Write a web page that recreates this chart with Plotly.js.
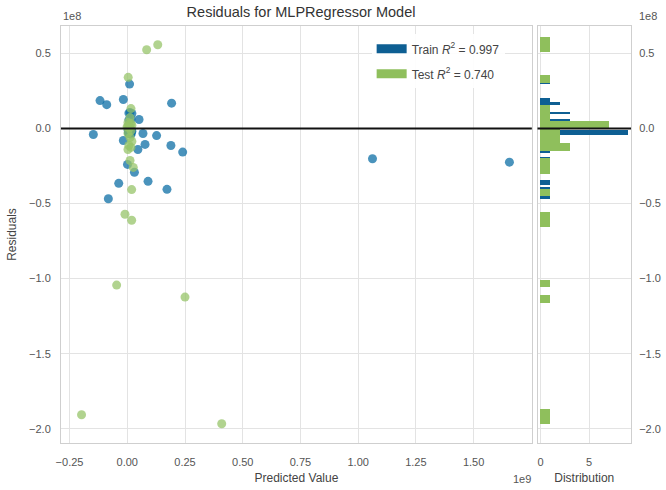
<!DOCTYPE html>
<html>
<head>
<meta charset="utf-8">
<script src="https://cdn.plot.ly/plotly-3.0.1.min.js"></script>
<style>html,body{margin:0;padding:0;background:#fff;}#chart{width:666px;height:490px;}</style>
</head>
<body>
<div id="chart"></div>
<script>
// Predicted values (units of 1e9) and residuals (units of 1e8)
var trainPred = [-0.118, -0.089, -0.017, 0.192, 0.010, 0.051, -0.147, -0.017, 0.068, 0.127,
  0.077, 0.046, 0.189, 0.240, 0.001, 0.031, -0.037, 0.090, 0.172, -0.082, 1.062, 1.655,
  0.012, 0.020, 0.007, 0.016, 0.007,
  0.004, 0.010, 0.014, 0.018, 0.006, 0.012, 0.016, 0.008, 0.020,
  0.005, 0.011, 0.015, 0.009, 0.013, 0.017, 0.006];
var trainResid = [0.186, 0.159, 0.193, 0.169, 0.296, 0.060, -0.040, -0.080, -0.033, -0.047,
  -0.106, -0.140, -0.113, -0.157, -0.239, -0.292, -0.365, -0.352, -0.405, -0.468, -0.201, -0.224,
  0.106, 0.100, 0.103, 0.062, 0.058,
  -0.011, -0.013, -0.015, -0.017, -0.019, -0.021, -0.022, -0.014, -0.018,
  -0.027, -0.029, -0.031, -0.033, -0.035, -0.037, -0.030];
var testPred = [0.084, 0.132, 0.004, 0.016, 0.012, 0.003, 0.016, 0.007, 0.020, 0.003, 0.012, -0.001,
  0.016, 0.003, 0.012, 0.020, 0.007, 0.016, 0.003, 0.012, 0.026, 0.019, -0.010, 0.019,
  -0.046, 0.250, -0.198, 0.409];
var testResid = [0.525, 0.558, 0.341, 0.133, 0.073, 0.040, 0.033, 0.027, 0.020, 0.013, 0.007, 0.010,
  -0.013, -0.033, -0.060, -0.086, -0.113, -0.126, -0.140, -0.213, -0.259, -0.407, -0.571, -0.611,
  -1.043, -1.123, -1.907, -1.967];
var trainLabel = 'Train <i>R</i><sup>2</sup> = 0.997';
var testLabel = 'Test <i>R</i><sup>2</sup> = 0.740';
var xTicks = [-0.25, 0, 0.25, 0.5, 0.75, 1.0, 1.25, 1.5];
var yTicks = [0.5, 0, -0.5, -1.0, -1.5, -2.0];
var histTicks = [0, 5];

var blueHist = '#0e5f93', greenHist = '#8fbf5c';
var blueDot = '#0e6fa6', greenDot = '#97c46a';

function bins(arr) {
  var mn = Math.min.apply(null, arr), mx = Math.max.apply(null, arr);
  var size = (mx - mn) / 50;
  return {start: mn, end: mx + size * 0.001, size: size};
}

var traces = [
  {type: 'scatter', mode: 'markers', x: trainPred, y: trainResid, xaxis: 'x', yaxis: 'y',
   marker: {color: blueDot, size: 9, opacity: 0.75}, showlegend: false, hoverinfo: 'skip'},
  {type: 'scatter', mode: 'markers', x: testPred, y: testResid, xaxis: 'x', yaxis: 'y',
   marker: {color: greenDot, size: 9, opacity: 0.75}, showlegend: false, hoverinfo: 'skip'},
  {type: 'histogram', y: trainResid, orientation: 'h', xaxis: 'x2', yaxis: 'y2',
   ybins: bins(trainResid), marker: {color: blueHist}, showlegend: false},
  {type: 'histogram', y: testResid, orientation: 'h', xaxis: 'x2', yaxis: 'y2',
   ybins: bins(testResid), marker: {color: greenHist}, showlegend: false},
  {type: 'scatter', mode: 'lines', x: [null], y: [null], xaxis: 'x', yaxis: 'y', name: trainLabel,
   line: {color: blueHist, width: 9}, legendgroup: 'a'},
  {type: 'scatter', mode: 'lines', x: [null], y: [null], xaxis: 'x', yaxis: 'y', name: testLabel,
   line: {color: greenHist, width: 9}, legendgroup: 'b'}
];

var font = {family: 'Liberation Sans, Arial, sans-serif', size: 11, color: '#555'};
var grid = '#e3e3e3', frame = '#cfcfcf';

var layout = {
  width: 666, height: 490,
  margin: {l: 61, r: 35, t: 26, b: 47},
  paper_bgcolor: '#fff', plot_bgcolor: '#fff',
  font: font,
  barmode: 'overlay', bargap: 0,
  title: {text: 'Residuals for MLPRegressor Model', font: {size: 14.5, color: '#333'},
          xref: 'container', x: 0.452, xanchor: 'center', yref: 'container', y: 0.975, yanchor: 'middle'},
  xaxis: {domain: [0, 0.826], range: [-0.287, 1.752], tickvals: xTicks, tickformat: '.2f',
          showgrid: true, gridcolor: grid, zeroline: false, showline: true, mirror: true, linecolor: frame,
          ticks: '', ticklabelstandoff: 9, anchor: 'y',
          title: {text: 'Predicted Value', font: {size: 12, color: '#444'}, standoff: 6}},
  yaxis: {domain: [0, 1], range: [-2.095, 0.683], tickvals: yTicks, tickformat: '.1f',
          showgrid: true, gridcolor: grid, zeroline: false, showline: true, mirror: true, linecolor: frame,
          ticks: '', ticklabelstandoff: 7, anchor: 'x',
          title: {text: 'Residuals', font: {size: 12, color: '#444'}, standoff: 9}},
  xaxis2: {domain: [0.836, 1], range: [-0.3, 9.3], tickvals: histTicks, anchor: 'y2',
           showgrid: true, gridcolor: grid, zeroline: false, showline: true, mirror: true, linecolor: frame,
           ticks: '', ticklabelstandoff: 9,
           title: {text: 'Distribution', font: {size: 12, color: '#444'}, standoff: 6}},
  yaxis2: {domain: [0, 1], matches: 'y', anchor: 'x2', side: 'right', tickvals: yTicks, tickformat: '.1f',
           showgrid: true, gridcolor: grid, zeroline: false, showline: true, mirror: true, linecolor: frame,
           ticks: '', ticklabelstandoff: 5, showticklabels: true},
  legend: {x: 0.545, xanchor: 'left', y: 0.98, yanchor: 'top', bgcolor: 'rgba(255,255,255,0.9)',
           font: {size: 12, color: '#444'}, tracegroupgap: 6, itemwidth: 30},
  shapes: [
    {type: 'line', xref: 'x domain', x0: 0, x1: 1, yref: 'y', y0: 0, y1: 0,
     line: {color: '#111', width: 2.2}, layer: 'above'},
    {type: 'line', xref: 'x2 domain', x0: 0, x1: 1, yref: 'y2', y0: 0, y1: 0,
     line: {color: '#111', width: 2.2}, layer: 'above'}
  ],
  annotations: [
    {text: '1e8', xref: 'paper', yref: 'paper', x: 0.0, y: 1.004, xanchor: 'left', yanchor: 'bottom', showarrow: false, font: {size: 11, color: '#555'}},
    {text: '1e8', xref: 'paper', yref: 'paper', x: 1.03, y: 1.004, xanchor: 'center', yanchor: 'bottom', showarrow: false, font: {size: 11, color: '#555'}},
    {text: '1e9', xref: 'paper', yref: 'paper', x: 0.808, y: -0.066, xanchor: 'center', yanchor: 'top', showarrow: false, font: {size: 11, color: '#555'}}
  ]
};

Plotly.newPlot('chart', traces, layout, {displayModeBar: false, staticPlot: true});
</script>
</body>
</html>
